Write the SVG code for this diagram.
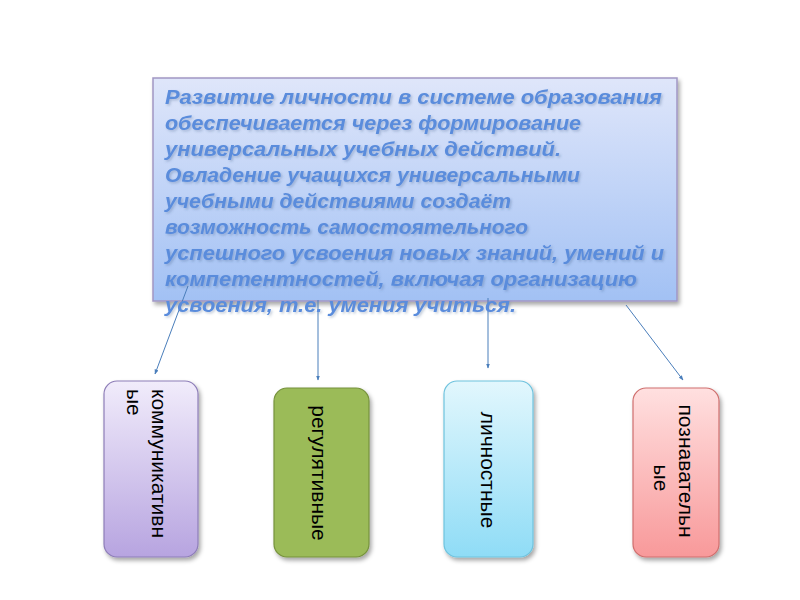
<svg xmlns="http://www.w3.org/2000/svg" width="800" height="600" viewBox="0 0 800 600">
<defs>
<linearGradient id="gMain" x1="0" y1="0" x2="0" y2="1"><stop offset="0" stop-color="#dfe6fa"/><stop offset="1" stop-color="#a2c1f4"/></linearGradient>
<linearGradient id="gPurple" x1="0" y1="0" x2="0" y2="1"><stop offset="0" stop-color="#f1ecfb"/><stop offset="1" stop-color="#b7a4e0"/></linearGradient>
<linearGradient id="gCyan" x1="0" y1="0" x2="0" y2="1"><stop offset="0" stop-color="#e2f7fd"/><stop offset="1" stop-color="#8fdcf6"/></linearGradient>
<linearGradient id="gPink" x1="0" y1="0" x2="0" y2="1"><stop offset="0" stop-color="#ffe0e0"/><stop offset="1" stop-color="#f8999a"/></linearGradient>
<filter id="sh" x="-10%" y="-10%" width="130%" height="130%"><feDropShadow dx="2" dy="3" stdDeviation="2" flood-color="#000" flood-opacity="0.35"/></filter>
<filter id="tsh" x="-5%" y="-20%" width="110%" height="150%"><feDropShadow dx="1.5" dy="1.5" stdDeviation="1" flood-color="#3a5680" flood-opacity="0.3"/></filter>
<marker id="arr" viewBox="0 0 10 10" refX="9" refY="5" markerWidth="5" markerHeight="5" orient="auto"><path d="M0,1 L10,5 L0,9 z" fill="#4a7ebb"/></marker>
</defs>
<style>
.main{font-family:"Liberation Sans",Arial,sans-serif;font-weight:bold;font-style:italic;font-size:20px;fill:#5a8cdc}
.lbl{font-family:"Liberation Sans",Arial,sans-serif;font-size:21px;fill:#000}
.conn line{stroke:#4a7ebb;stroke-width:1;marker-end:url(#arr)}
</style>
<g id="main-box">
<rect x="153" y="78" width="524" height="223" fill="url(#gMain)" stroke="#a196c4" stroke-width="1.5" filter="url(#sh)"/>
</g>
<g id="connectors" class="conn">
<line x1="188" y1="286" x2="155" y2="374"/>
<line x1="318" y1="300" x2="318" y2="380"/>
<line x1="488" y1="298" x2="488" y2="368"/>
<line x1="626" y1="305" x2="683" y2="380"/>
</g>
<g id="main-text" class="main" filter="url(#tsh)">
<text x="165" y="104" textLength="497" lengthAdjust="spacingAndGlyphs">Развитие личности в системе образования</text>
<text x="165" y="130" textLength="416" lengthAdjust="spacingAndGlyphs">обеспечивается через формирование</text>
<text x="165" y="156" textLength="396" lengthAdjust="spacingAndGlyphs">универсальных учебных действий.</text>
<text x="165" y="182" textLength="415" lengthAdjust="spacingAndGlyphs">Овладение учащихся универсальными</text>
<text x="165" y="208" textLength="346" lengthAdjust="spacingAndGlyphs">учебными действиями создаёт</text>
<text x="165" y="234" textLength="363" lengthAdjust="spacingAndGlyphs">возможность самостоятельного</text>
<text x="165" y="260" textLength="499" lengthAdjust="spacingAndGlyphs">успешного усвоения новых знаний, умений и</text>
<text x="165" y="286" textLength="472" lengthAdjust="spacingAndGlyphs">компетентностей, включая организацию</text>
<text x="165" y="312" textLength="351" lengthAdjust="spacingAndGlyphs">усвоения, т.е. умения учиться.</text>
</g>
<g id="node-kommunikativnye">
<rect x="104" y="381" width="94" height="176" rx="13" fill="url(#gPurple)" stroke="#8e7eb8" stroke-width="1.2" filter="url(#sh)"/>
<text class="lbl" transform="translate(152,389) rotate(90)">коммуникативн</text>
<text class="lbl" transform="translate(127,389) rotate(90)">ые</text>
</g>
<g id="node-regulyativnye">
<rect x="274" y="388" width="95" height="169" rx="13" fill="#9bbb59" stroke="#76923c" stroke-width="1.2" filter="url(#sh)"/>
<text class="lbl" text-anchor="middle" transform="translate(312,473) rotate(90)">регулятивные</text>
</g>
<g id="node-lichnostnye">
<rect x="444" y="381" width="89" height="176" rx="13" fill="url(#gCyan)" stroke="#6fc3de" stroke-width="1.2" filter="url(#sh)"/>
<text class="lbl" text-anchor="middle" transform="translate(481,470) rotate(90)">личностные</text>
</g>
<g id="node-poznavatelnye">
<rect x="633" y="388" width="86" height="169" rx="13" fill="url(#gPink)" stroke="#cf6f6e" stroke-width="1.2" filter="url(#sh)"/>
<text class="lbl" text-anchor="middle" transform="translate(679,471) rotate(90)">познавательн</text>
<text class="lbl" text-anchor="middle" transform="translate(654,478) rotate(90)">ые</text>
</g>
</svg>
